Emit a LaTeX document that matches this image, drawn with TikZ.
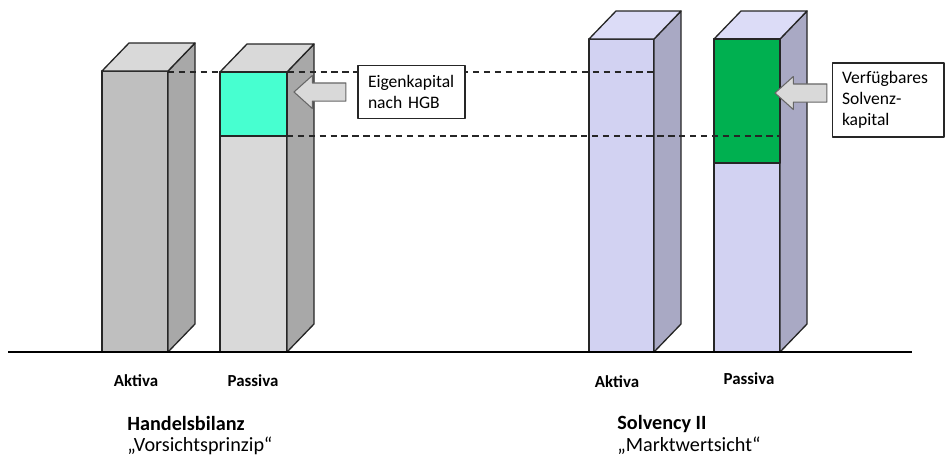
\documentclass[tikz,border=0pt]{standalone}
\usepackage{fontspec}
\setmainfont{Carlito}
\usetikzlibrary{positioning,shapes.arrows}
\definecolor{rand}{HTML}{262626}
\definecolor{hbvorn}{HTML}{BFBFBF}
\definecolor{hbhell}{HTML}{D9D9D9}
\definecolor{hbseite}{HTML}{A8A8A8}
\definecolor{svvorn}{HTML}{D2D2F2}
\definecolor{svseite}{HTML}{A9A9C4}
\definecolor{svdach}{HTML}{DCDCF7}
\definecolor{ekfarbe}{HTML}{47FFD0}
\definecolor{skfarbe}{HTML}{00B050}
% #1 links, #2 rechts, #3 oben, #4 vorn, #5 seite, #6 dach
\newcommand{\saeule}[6]{
  \filldraw[wand,fill=#4] (#1,#3) rectangle (#2,352);
  \filldraw[wand,fill=#5] (#2,#3) -- ++(27,-28) -- (#2+27,324) -- (#2,352) -- cycle;
  \filldraw[wand,fill=#6] (#1,#3) -- ++(27,-28) -- (#2+27,#3-28) -- (#2,#3) -- cycle;
}
\begin{document}
\begin{tikzpicture}[x=0.02cm,y=-0.02cm,line join=round]
  \tikzstyle{wand}=[draw=rand,line width=0.75pt]
  \tikzstyle{linie}=[draw=rand,dash pattern=on 3.6pt off 2.6pt,line width=0.8pt]
  \tikzstyle{kasten}=[draw=rand,fill=white,line width=0.6pt,align=left,inner sep=0pt,
                      font=\fontsize{10}{12}\selectfont]
  \tikzstyle{pfeil}=[single arrow,shape border rotate=180,draw=gray!80!black,fill=hbhell,
                     line width=0.6pt,minimum height=1.04cm,inner xsep=0pt,inner ysep=0.17cm,
                     single arrow head extend=0.15cm,single arrow tip angle=84]
  \tikzstyle{achse}=[font=\fontsize{9.6}{11}\selectfont\bfseries]
  \tikzstyle{titel}=[anchor=base west,inner sep=0pt,font=\fontsize{11.5}{13}\selectfont]
  \useasboundingbox (0,0) rectangle (945,457);

  \saeule{102}{168}{71}{hbvorn}{hbseite}{hbhell}
  \saeule{220}{287}{72}{hbhell}{hbseite}{hbhell}
  \saeule{589}{654}{39}{svvorn}{svseite}{svdach}
  \saeule{714}{780}{39}{svvorn}{svseite}{svdach}
  \filldraw[wand,fill=ekfarbe] (220,72) rectangle (287,136);
  \filldraw[wand,fill=skfarbe] (714,39) rectangle (780,163);

  \coordinate (o1) at (168,72);
  \coordinate (o2) at (654,72);
  \coordinate (u1) at (287,136);
  \coordinate (u2) at (780,136);
  \draw[linie] (o1) -- (o2);
  \draw[linie] (u1) -- (u2);

  \draw[line width=1.1pt,draw=black] (8,352) -- (912,352);

  \node[kasten,text width=1.74cm,minimum height=1.06cm,inner xsep=0.2cm] (ek) at (411.5,92)
    {Eigenkapital\\nach HGB};
  \node[kasten,text width=1.84cm,minimum height=1.48cm,inner xsep=0.2cm] (sk) at (888,100)
    {Verfügbares\\Solvenz-\\kapital};
  \node[pfeil,left=0.22cm of ek] (p1) {};
  \node[pfeil,left=0.08cm of sk,yshift=0.14cm] (p2) {};

  \node[achse] (a1) at (136,381) {Aktiva};
  \node[achse] (p1l) at (253,381) {Passiva};
  \node[achse] (a2) at (617,382) {Aktiva};
  \node[achse] (p2l) at (749,379) {Passiva};

  \node[titel,font=\fontsize{11.5}{13}\selectfont\bfseries] (hb) at (127,430) {Handelsbilanz};
  \node[titel] (vp) at (127,451) {„Vorsichtsprinzip“};
  \node[titel,font=\fontsize{11.5}{13}\selectfont\bfseries] (s2) at (617,429) {Solvency II};
  \node[titel] (mw) at (617,451) {„Marktwertsicht“};
\end{tikzpicture}
\end{document}
